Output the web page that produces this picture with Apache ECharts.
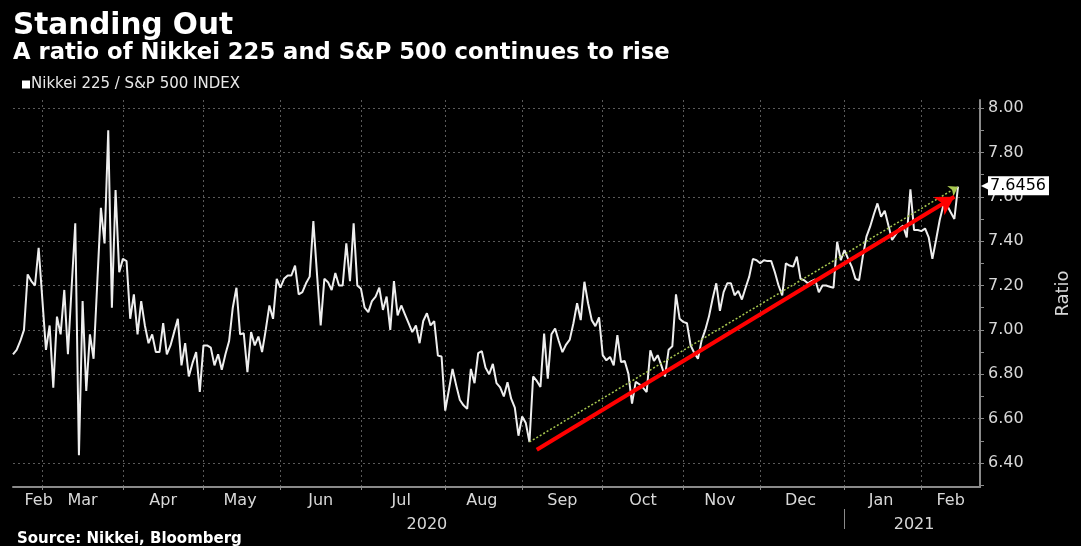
<!DOCTYPE html>
<html>
<head>
<meta charset="utf-8">
<script src="https://cdn.jsdelivr.net/npm/echarts@6/dist/echarts.min.js"></script>
<style>
html,body{margin:0;padding:0;background:#000;}
#c{width:1081px;height:546px;}
</style>
</head>
<body>
<div id="c"></div>
<script>
// ---- data ----
const startDate = '2020-02-19';
const endDate = '2021-02-23';
const seriesName = 'Nikkei 225 / S&P 500 INDEX';
const ratio = [
6.89,6.91,6.95,7.00,7.25,7.22,7.20,7.37,7.14,6.91,
7.02,6.74,7.06,6.98,7.18,6.89,7.19,7.48,6.435,7.13,
6.725,6.98,6.87,7.21,7.55,7.39,7.90,7.10,7.63,7.26,
7.32,7.31,7.05,7.16,6.98,7.13,7.02,6.94,6.98,6.90,
6.90,7.03,6.89,6.93,6.99,7.05,6.84,6.94,6.79,6.85,
6.90,6.72,6.93,6.93,6.92,6.84,6.89,6.82,6.89,6.95,
7.10,7.19,6.98,6.985,6.81,6.99,6.93,6.97,6.90,7.00,
7.11,7.05,7.23,7.19,7.23,7.245,7.245,7.29,7.16,7.17,
7.21,7.24,7.49,7.25,7.02,7.23,7.215,7.18,7.256,7.20,
7.20,7.39,7.22,7.48,7.20,7.185,7.10,7.08,7.13,7.15,
7.19,7.09,7.15,7.00,7.22,7.065,7.11,7.07,7.03,6.99,
7.02,6.94,7.04,7.075,7.02,7.04,6.884,6.88,6.636,6.73,
6.824,6.75,6.684,6.66,6.644,6.824,6.76,6.895,6.904,6.83,
6.80,6.847,6.76,6.741,6.70,6.764,6.69,6.65,6.523,6.61,
6.58,6.495,6.79,6.77,6.743,6.983,6.78,6.98,7.006,6.95,
6.90,6.934,6.956,7.03,7.12,7.044,7.217,7.12,7.044,7.017,
7.056,6.886,6.863,6.878,6.84,6.976,6.855,6.86,6.803,6.668,
6.766,6.755,6.74,6.72,6.908,6.86,6.886,6.84,6.79,6.911,
6.926,7.16,7.05,7.036,7.03,6.93,6.896,6.87,6.953,7.00,
7.06,7.14,7.21,7.086,7.17,7.21,7.21,7.156,7.176,7.137,
7.19,7.24,7.32,7.314,7.30,7.314,7.31,7.31,7.26,7.20,
7.156,7.30,7.29,7.285,7.33,7.23,7.224,7.21,7.22,7.227,
7.17,7.20,7.20,7.194,7.19,7.397,7.314,7.36,7.32,7.284,
7.23,7.224,7.33,7.42,7.465,7.52,7.57,7.51,7.537,7.47,
7.405,7.43,7.457,7.47,7.417,7.633,7.45,7.45,7.445,7.457,
7.417,7.32,7.405,7.495,7.562,7.562,7.53,7.50,7.6456
];
const yLabels = [6.4, 6.6, 6.8, 7.0, 7.2, 7.4, 7.6, 7.8, 8.0];
const yMinorTicks = [6.3, 6.4, 6.5, 6.6, 6.7, 6.8, 6.9, 7.0, 7.1, 7.2, 7.3, 7.4, 7.5, 7.6, 7.7, 7.8, 7.9, 8.0];
const yMin = 6.292, yMax = 8.036;
const monthNames = ['Jan','Feb','Mar','Apr','May','Jun','Jul','Aug','Sep','Oct','Nov','Dec'];
const trendFrom = '2020-09-03';          // low point the dotted trend starts from
const arrowFrom = ['2020-09-07', 6.46];  // red arrow start
const arrowTo = ['2021-02-12', 7.60];    // red arrow tip

// ---- categories: weekdays ----
function weekdays(s, e) {
  const out = [];
  const d = new Date(s + 'T00:00:00Z');
  const end = new Date(e + 'T00:00:00Z');
  while (d <= end) {
    const w = d.getUTCDay();
    if (w !== 0 && w !== 6) out.push(d.toISOString().slice(0, 10));
    d.setUTCDate(d.getUTCDate() + 1);
  }
  return out;
}
const cats = weekdays(startDate, endDate);

const monthStart = new Set();
const monthLabel = new Map();
const yearStart = new Set();
const yearLabel = new Map();
function groups(keyFn) {
  const g = [];
  let s = 0;
  for (let i = 1; i <= cats.length; i++) {
    if (i === cats.length || keyFn(cats[i]) !== keyFn(cats[i - 1])) {
      g.push([s, i - 1]);
      s = i;
    }
  }
  return g;
}
groups(c => c.slice(0, 7)).forEach(([s, e]) => {
  if (s > 0) monthStart.add(s);
  const li = s === 0 ? e : Math.ceil((s + e) / 2);
  monthLabel.set(li, monthNames[parseInt(cats[s].slice(5, 7), 10) - 1]);
});
groups(c => c.slice(0, 4)).forEach(([s, e]) => {
  if (s > 0) yearStart.add(s);
  yearLabel.set(Math.ceil((s + e) / 2), cats[s].slice(0, 4));
});

const lastIdx = ratio.length - 1;
const lastVal = ratio[lastIdx];
const trendIdx = cats.indexOf(trendFrom);

const FONT = 'DejaVu Sans';
const chart = echarts.init(document.getElementById('c'));
chart.setOption({
  backgroundColor: '#000',
  animation: false,
  title: [
    {
      text: 'Standing Out',
      subtext: 'A ratio of Nikkei 225 and S&P 500 continues to rise',
      left: 13, top: 11, itemGap: 1, padding: 0,
      textStyle: { color: '#fff', fontSize: 29.5, fontWeight: 'bold', fontFamily: FONT },
      subtextStyle: { color: '#fff', fontSize: 22.7, fontWeight: 'bold', fontFamily: FONT }
    },
    {
      text: 'Source: Nikkei, Bloomberg',
      left: 17, top: 532, padding: 0,
      textStyle: { color: '#fff', fontSize: 15, fontWeight: 'bold', fontFamily: FONT }
    }
  ],
  legend: {
    data: [seriesName],
    left: 22, top: 77, padding: 0,
    icon: 'rect', itemWidth: 8, itemHeight: 8,
    textStyle: { color: '#e8e8e8', fontSize: 15, fontFamily: FONT, padding: [0, 0, 0, -4] }
  },
  grid: { left: 13, right: 101, top: 100, bottom: 59, containLabel: false },
  xAxis: [
    {
      type: 'category', data: cats, boundaryGap: false,
      axisLine: { lineStyle: { color: '#8a8a8a', width: 2 } },
      axisTick: { show: true, interval: (i) => monthStart.has(i), length: 3, lineStyle: { color: '#8a8a8a' } },
      splitLine: { show: true, interval: (i) => monthStart.has(i), lineStyle: { color: '#5a5a5a', type: [2, 3], width: 1 } },
      axisLabel: {
        interval: (i) => monthLabel.has(i),
        formatter: (v, i) => monthLabel.get(i) || '',
        color: '#d8d8d8', fontSize: 16, fontFamily: FONT, margin: 6
      }
    },
    {
      type: 'category', data: cats, boundaryGap: false, position: 'bottom', offset: 22,
      axisLine: { show: false },
      axisTick: { show: true, interval: (i) => yearStart.has(i), length: 20, lineStyle: { color: '#8a8a8a' } },
      splitLine: { show: false },
      axisLabel: {
        interval: (i) => yearLabel.has(i),
        formatter: (v, i) => yearLabel.get(i) || '',
        color: '#d8d8d8', fontSize: 16, fontFamily: FONT, margin: 8
      }
    }
  ],
  yAxis: [
    {
      type: 'value', position: 'right', min: yMin, max: yMax,
      name: 'Ratio', nameLocation: 'middle', nameGap: 74,
      nameTextStyle: { color: '#d8d8d8', fontSize: 18, fontFamily: FONT },
      axisLine: { show: true, lineStyle: { color: '#8a8a8a', width: 2 } },
      axisTick: { show: true, customValues: yMinorTicks, length: 4, lineStyle: { color: '#8a8a8a' } },
      axisLabel: { customValues: yLabels, formatter: v => v.toFixed(2), color: '#d8d8d8', fontSize: 16, fontFamily: FONT, margin: 8 },
      splitLine: { show: false }
    },
    {
      type: 'value', position: 'right', min: yMin, max: yMax,
      axisLine: { show: false },
      axisTick: { show: false, customValues: yLabels },
      axisLabel: { show: false, customValues: yLabels },
      splitLine: { show: true, lineStyle: { color: '#5a5a5a', type: [2, 3], width: 1 } }
    }
  ],
  series: [
    {
      name: seriesName, type: 'line', data: ratio, showSymbol: false, symbol: 'none',
      lineStyle: { color: '#eeeeee', width: 2 }, itemStyle: { color: '#ffffff' }, z: 2,
      markLine: {
        silent: true, symbol: ['none', 'none'], animation: false,
        lineStyle: { color: 'rgba(0,0,0,0)', width: 0, type: 'solid' },
        data: [
          {
            yAxis: lastVal,
            label: {
              show: true, position: 'end', distance: 8,
              formatter: () => lastVal.toFixed(4),
              backgroundColor: '#ffffff', color: '#000000', fontSize: 16, fontFamily: FONT,
              padding: [2, 3, 1, 2]
            }
          },
          {
            yAxis: lastVal,
            label: {
              show: true, position: 'end', distance: 1,
              formatter: () => '◀',
              color: '#ffffff', fontSize: 12, fontFamily: FONT, padding: 0
            }
          }
        ]
      }
    },
    {
      name: 'annot', type: 'line', data: [], z: 5, silent: true,
      markLine: {
        silent: true, symbol: ['none', 'none'], animation: false,
        data: [
          [
            { coord: [cats[trendIdx], ratio[trendIdx]], lineStyle: { color: '#a8c850', type: [2, 2], width: 1.5 }, label: { show: false } },
            { coord: [cats[lastIdx], lastVal], symbol: 'arrow', symbolSize: [9, 9] }
          ],
          [
            { coord: [arrowFrom[0], arrowFrom[1]], lineStyle: { color: '#ff0000', type: 'solid', width: 4 }, label: { show: false } },
            { coord: [arrowTo[0], arrowTo[1]], symbol: 'arrow', symbolSize: [16, 18] }
          ]
        ]
      }
    }
  ]
});
</script>
</body>
</html>
